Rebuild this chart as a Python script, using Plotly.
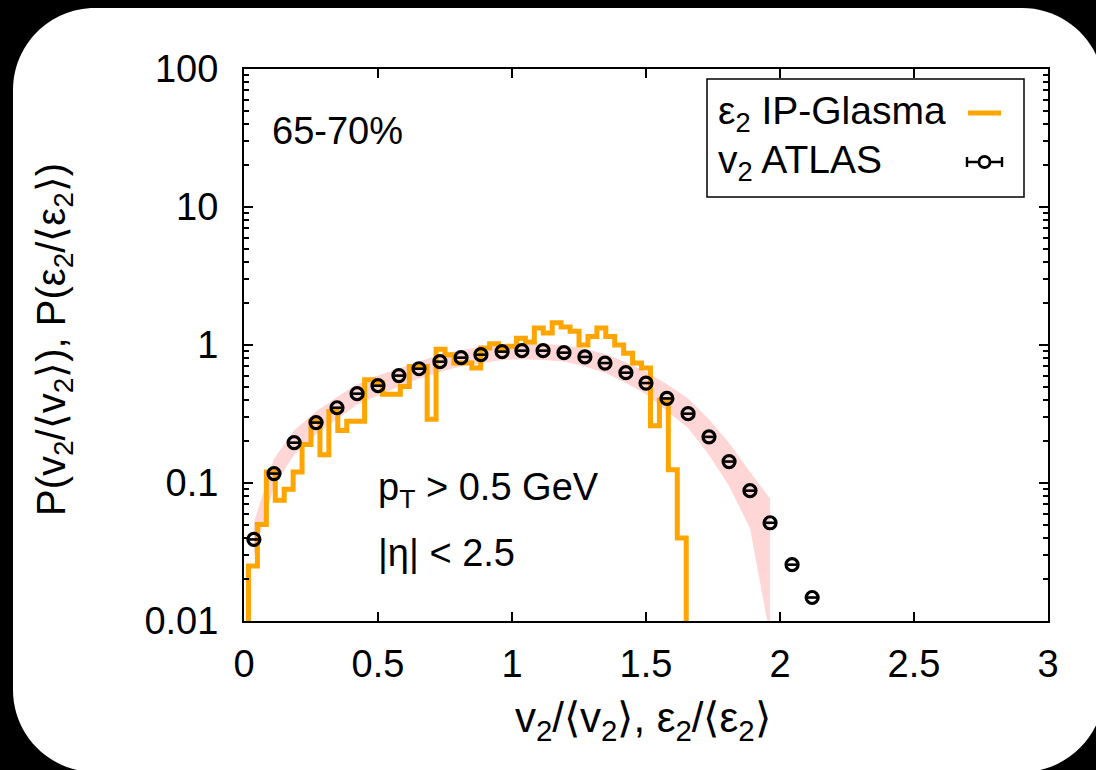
import plotly.graph_objects as go

# ---------------- data ----------------
# ATLAS v2/<v2> distribution (65-70%)
atlas_x = [0.037, 0.112, 0.187, 0.269, 0.347, 0.422, 0.500, 0.578, 0.653, 0.731,
           0.810, 0.884, 0.963, 1.037, 1.116, 1.194, 1.272, 1.347, 1.425, 1.500,
           1.578, 1.657, 1.735, 1.810, 1.888, 1.963, 2.045, 2.120]
atlas_y = [0.039, 0.117, 0.196, 0.274, 0.351, 0.444, 0.507, 0.600, 0.673, 0.757,
           0.810, 0.851, 0.895, 0.910, 0.910, 0.880, 0.820, 0.740, 0.630, 0.530,
           0.410, 0.318, 0.216, 0.143, 0.088, 0.0515, 0.0256, 0.0148]
atlas_xerr = [0.018] * len(atlas_x)

# ATLAS uncertainty band (first 26 points)
band_hi = [0.052, 0.150, 0.240, 0.330, 0.420, 0.520, 0.600, 0.680, 0.760, 0.850,
           0.920, 0.970, 1.000, 1.020, 1.020, 0.990, 0.940, 0.860, 0.750, 0.640,
           0.520, 0.410, 0.290, 0.195, 0.120, 0.077]
band_lo = [0.030, 0.095, 0.160, 0.225, 0.290, 0.370, 0.430, 0.500, 0.570, 0.640,
           0.700, 0.740, 0.780, 0.790, 0.780, 0.760, 0.700, 0.630, 0.530, 0.440,
           0.330, 0.250, 0.160, 0.095, 0.047, 0.0078]

# IP-Glasma eps2/<eps2> histogram, bin width 1/30, centres k/30 (k = 0..50)
# (k = 0 and k = 50 are empty bins, given a tiny value below the axis floor)
glasma_k = list(range(0, 51))
glasma_y = [1e-4,
            0.025, 0.050, 0.120, 0.075, 0.090, 0.120, 0.190, 0.280, 0.160, 0.330,
            0.240, 0.280, 0.280, 0.560, 0.530, 0.440, 0.440, 0.500, 0.700, 0.700,
            0.290, 0.930, 0.850, 0.740, 0.740, 0.680, 0.950, 1.020, 0.930, 0.980,
            1.120, 1.050, 1.330, 1.220, 1.450, 1.350, 1.260, 1.000, 1.150, 1.330,
            1.150, 1.000, 0.870, 0.740, 0.680, 0.260, 0.400, 0.125, 0.040,
            1e-4]
glasma_x = [k / 30 for k in glasma_k]

x_ticks = [0, 0.5, 1, 1.5, 2, 2.5, 3]
x_ticktext = ["0", "0.5", "1", "1.5", "2", "2.5", "3"]
y_ticks = [0.01, 0.1, 1, 10, 100]
y_ticktext = ["0.01", "0.1", "1", "10", "100"]

# ---------------- layout helpers ----------------
W, H = 1096, 770
ML, MR, MT, MB = 244, 48, 69, 149
PW, PH = W - ML - MR, H - MT - MB


def px(x):
    return (x - ML) / PW


def py(y):
    return (H - MB - y) / PH


FONT = "Liberation Sans, Arial, Helvetica, sans-serif"
ORANGE = "#FFA500"
PINK = "#FFD6D6"
FS = 38
FT = 42

fig = go.Figure()

fig.add_trace(go.Scatter(x=atlas_x[:len(band_lo)], y=band_lo, mode="lines",
                         line=dict(width=0, color=PINK), showlegend=False,
                         hoverinfo="skip"))
fig.add_trace(go.Scatter(x=atlas_x[:len(band_hi)], y=band_hi, mode="lines",
                         line=dict(width=0, color=PINK), fill="tonexty",
                         fillcolor=PINK, showlegend=False, hoverinfo="skip"))

fig.add_trace(go.Scatter(x=glasma_x, y=glasma_y, mode="lines",
                         line=dict(color=ORANGE, width=5, shape="hvh"),
                         name="ε2 IP-Glasma", showlegend=False))

fig.add_trace(go.Scatter(x=atlas_x, y=atlas_y, mode="markers",
                         marker=dict(symbol="circle-open", size=12,
                                     color="black", line=dict(width=3.2, color="black")),
                         error_x=dict(type="data", array=atlas_xerr, color="black",
                                      thickness=2.6, width=0),
                         name="v2 ATLAS", showlegend=False))

# ---------------- shapes (background card, legend box) ----------------
L, T, R, B, RAD = 13, 8, 1104, 772, 82
k = 0.4477
card = (f"M {px(L + RAD)},{py(T)} L {px(R - RAD)},{py(T)} "
        f"C {px(R - RAD * k)},{py(T)} {px(R)},{py(T + RAD * k)} {px(R)},{py(T + RAD)} "
        f"L {px(R)},{py(B - RAD)} "
        f"C {px(R)},{py(B - RAD * k)} {px(R - RAD * k)},{py(B)} {px(R - RAD)},{py(B)} "
        f"L {px(L + RAD)},{py(B)} "
        f"C {px(L + RAD * k)},{py(B)} {px(L)},{py(B - RAD * k)} {px(L)},{py(B - RAD)} "
        f"L {px(L)},{py(T + RAD)} "
        f"C {px(L)},{py(T + RAD * k)} {px(L + RAD * k)},{py(T)} {px(L + RAD)},{py(T)} Z")

shapes = [
    dict(type="path", path=card, xref="paper", yref="paper",
         fillcolor="white", line=dict(width=0), layer="below"),
    # legend frame
    dict(type="rect", xref="paper", yref="paper", x0=px(707), x1=px(1024),
         y0=py(197), y1=py(79), line=dict(color="black", width=1.5),
         fillcolor="white", layer="above"),
    # legend sample: orange line
    dict(type="line", xref="paper", yref="paper", x0=px(968), x1=px(1001),
         y0=py(113), y1=py(113), line=dict(color=ORANGE, width=5), layer="above"),
    # legend sample: error bar with circle
    dict(type="line", xref="paper", yref="paper", x0=px(967), x1=px(1002),
         y0=py(162), y1=py(162), line=dict(color="black", width=2.4), layer="above"),
    dict(type="line", xref="paper", yref="paper", x0=px(967), x1=px(967),
         y0=py(157), y1=py(167), line=dict(color="black", width=2.4), layer="above"),
    dict(type="line", xref="paper", yref="paper", x0=px(1002), x1=px(1002),
         y0=py(157), y1=py(167), line=dict(color="black", width=2.4), layer="above"),
    dict(type="circle", xref="paper", yref="paper", x0=px(979), x1=px(990),
         y0=py(167.5), y1=py(156.5), line=dict(color="black", width=2.8),
         fillcolor="white", layer="above"),
]

annotations = [
    dict(text="ε<sub>2</sub> IP-Glasma", x=px(716), y=py(113), xanchor="left",
         yanchor="middle", showarrow=False, xref="paper", yref="paper",
         font=dict(size=39, color="black", family=FONT)),
    dict(text="v<sub>2</sub> ATLAS", x=px(716), y=py(162), xanchor="left",
         yanchor="middle", showarrow=False, xref="paper", yref="paper",
         font=dict(size=39, color="black", family=FONT)),
    dict(text="65-70%", x=px(270), y=py(131), xanchor="left", yanchor="middle",
         showarrow=False, xref="paper", yref="paper",
         font=dict(size=FS, color="black", family=FONT)),
    dict(text="p<sub>T</sub> > 0.5 GeV", x=px(376), y=py(490), xanchor="left",
         yanchor="middle", showarrow=False, xref="paper", yref="paper",
         font=dict(size=FS, color="black", family=FONT)),
    dict(text="|η| < 2.5", x=px(376), y=py(553), xanchor="left", yanchor="middle",
         showarrow=False, xref="paper", yref="paper",
         font=dict(size=FS, color="black", family=FONT)),
    dict(text="v<sub>2</sub>/⟨v<sub>2</sub>⟩, ε<sub>2</sub>/⟨ε<sub>2</sub>⟩",
         x=px(643), y=py(720), xanchor="center", yanchor="middle", showarrow=False,
         xref="paper", yref="paper", font=dict(size=FT, color="black", family=FONT)),
    dict(text="P(v<sub>2</sub>/⟨v<sub>2</sub>⟩), P(ε<sub>2</sub>/⟨ε<sub>2</sub>⟩)",
         x=px(54), y=py(340), xanchor="center", yanchor="middle", textangle=-90,
         showarrow=False, xref="paper", yref="paper",
         font=dict(size=40, color="black", family=FONT)),
]

fig.update_layout(
    width=W, height=H,
    margin=dict(l=ML, r=MR, t=MT, b=MB, pad=0),
    paper_bgcolor="black",
    plot_bgcolor="rgba(0,0,0,0)",
    showlegend=False,
    shapes=shapes,
    annotations=annotations,
    font=dict(family=FONT, color="black", size=FS),
    xaxis=dict(range=[0, 3], tickvals=x_ticks, ticktext=x_ticktext,
               ticks="inside", ticklen=9, tickwidth=1.5, tickcolor="black",
               showline=True, linecolor="black", linewidth=2, mirror="allticks",
               showgrid=False, zeroline=False, ticklabelstandoff=8,
               tickfont=dict(size=FS, color="black", family=FONT)),
    yaxis=dict(type="log", range=[-2, 2], tickvals=y_ticks, ticktext=y_ticktext,
               ticks="inside", ticklen=9, tickwidth=1.5, tickcolor="black",
               showline=True, linecolor="black", linewidth=2, mirror="allticks",
               showgrid=False, zeroline=False, ticklabelstandoff=16,
               minor=dict(ticks="inside", ticklen=5, tickwidth=1.5,
                          tickcolor="black", dtick="D1", showgrid=False),
               tickfont=dict(size=FS, color="black", family=FONT)),
)

fig.write_html("out.html")
